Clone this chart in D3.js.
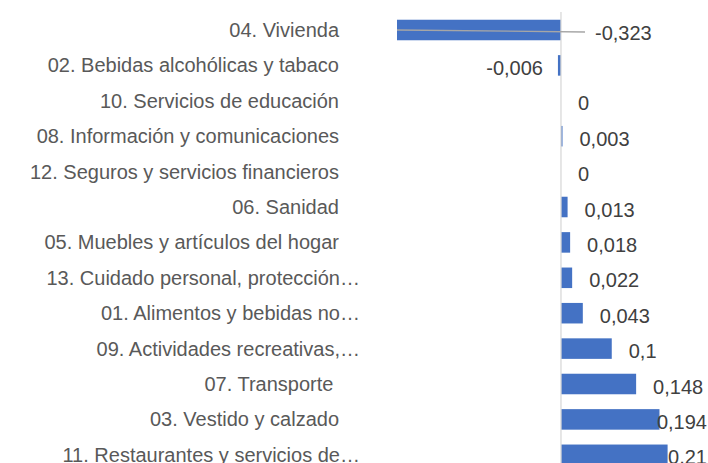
<!DOCTYPE html>
<html>
<head>
<meta charset="utf-8">
<script src="https://cdn.jsdelivr.net/npm/d3@7"></script>
<style>
  body { margin: 0; background: #fff; }
  text { font-family: "Liberation Sans", Arial, sans-serif; white-space: pre; }
</style>
</head>
<body>
<div id="chart"></div>
<script>
const categories = [
  "04. Vivienda",
  "02. Bebidas alcohólicas y tabaco",
  "10. Servicios de educación",
  "08. Información y comunicaciones",
  "12. Seguros y servicios financieros",
  "06. Sanidad",
  "05. Muebles y artículos del hogar",
  "13. Cuidado personal, protección…",
  "01. Alimentos y bebidas no…",
  "09. Actividades recreativas,…",
  "07. Transporte ",
  "03. Vestido y calzado",
  "11. Restaurantes y servicios de…"
];
const values = [-0.323, -0.006, 0, 0.003, 0, 0.013, 0.018, 0.022, 0.043, 0.1, 0.148, 0.194, 0.21];
const valueLabels = ["-0,323", "-0,006", "0", "0,003", "0", "0,013", "0,018", "0,022", "0,043", "0,1", "0,148", "0,194", "0,21"];

const width = 708, height = 463;
const fontSize = 20;
const data = categories.map((c, i) => ({ cat: c, value: values[i], label: valueLabels[i] }));

const svg = d3.select("#chart")
  .append("svg")
  .attr("width", width)
  .attr("height", height);

const x = d3.scaleLinear()
  .domain(d3.extent(values))
  .range([397, 667.6]);

const y = d3.scaleBand()
  .domain(categories)
  .range([12.3, 12.3 + 35.4 * categories.length])
  .paddingInner(0.42)
  .paddingOuter(0.21);

// bars
svg.selectAll("rect.bar")
  .data(data)
  .enter()
  .append("rect")
  .attr("class", "bar")
  .attr("x", d => x(Math.min(0, d.value)))
  .attr("y", d => y(d.cat))
  .attr("width", d => Math.abs(x(d.value) - x(0)))
  .attr("height", y.bandwidth())
  .attr("fill", "#4472c4");

// vertical axis line at zero
svg.append("line")
  .attr("x1", x(0)).attr("x2", x(0))
  .attr("y1", 12).attr("y2", height)
  .attr("stroke", "#d9d9d9")
  .attr("stroke-width", 1.3);

// category labels (truncated ones sit a bit further right, like Excel does)
svg.selectAll("text.cat")
  .data(data)
  .enter()
  .append("text")
  .attr("class", "cat")
  .attr("x", d => d.cat.endsWith("…") ? 360 : 339)
  .attr("y", d => y(d.cat) + y.bandwidth() / 2)
  .attr("dy", "0.35em")
  .attr("text-anchor", "end")
  .attr("font-size", fontSize)
  .attr("fill", "#595959")
  .text(d => d.cat);

// value labels
const minV = d3.min(values);
svg.selectAll("text.val")
  .data(data)
  .enter()
  .append("text")
  .attr("class", "val")
  .attr("y", d => y(d.cat) + y.bandwidth() / 2 + 2.5)
  .attr("dy", "0.35em")
  .attr("font-size", fontSize)
  .attr("fill", "#404040")
  .text(d => d.label)
  .each(function (d) {
    const t = d3.select(this);
    const w = this.getComputedTextLength();
    let lx;
    if (d.value === minV) lx = x(0) + 34;          // moved label with leader line
    else if (d.value < 0) lx = x(d.value) - 15 - w;
    else lx = Math.min(x(d.value) + 17, width - 1 - w);
    t.attr("x", lx);
  });

// leader line for the moved label
const minD = data.find(d => d.value === minV);
svg.append("line")
  .attr("x1", x(minV))
  .attr("y1", y(minD.cat) + y.bandwidth() / 2)
  .attr("x2", x(0) + 24)
  .attr("y2", y(minD.cat) + y.bandwidth() / 2 + 2)
  .attr("stroke", "#a6a6a6")
  .attr("stroke-width", 1.3);
</script>
</body>
</html>
